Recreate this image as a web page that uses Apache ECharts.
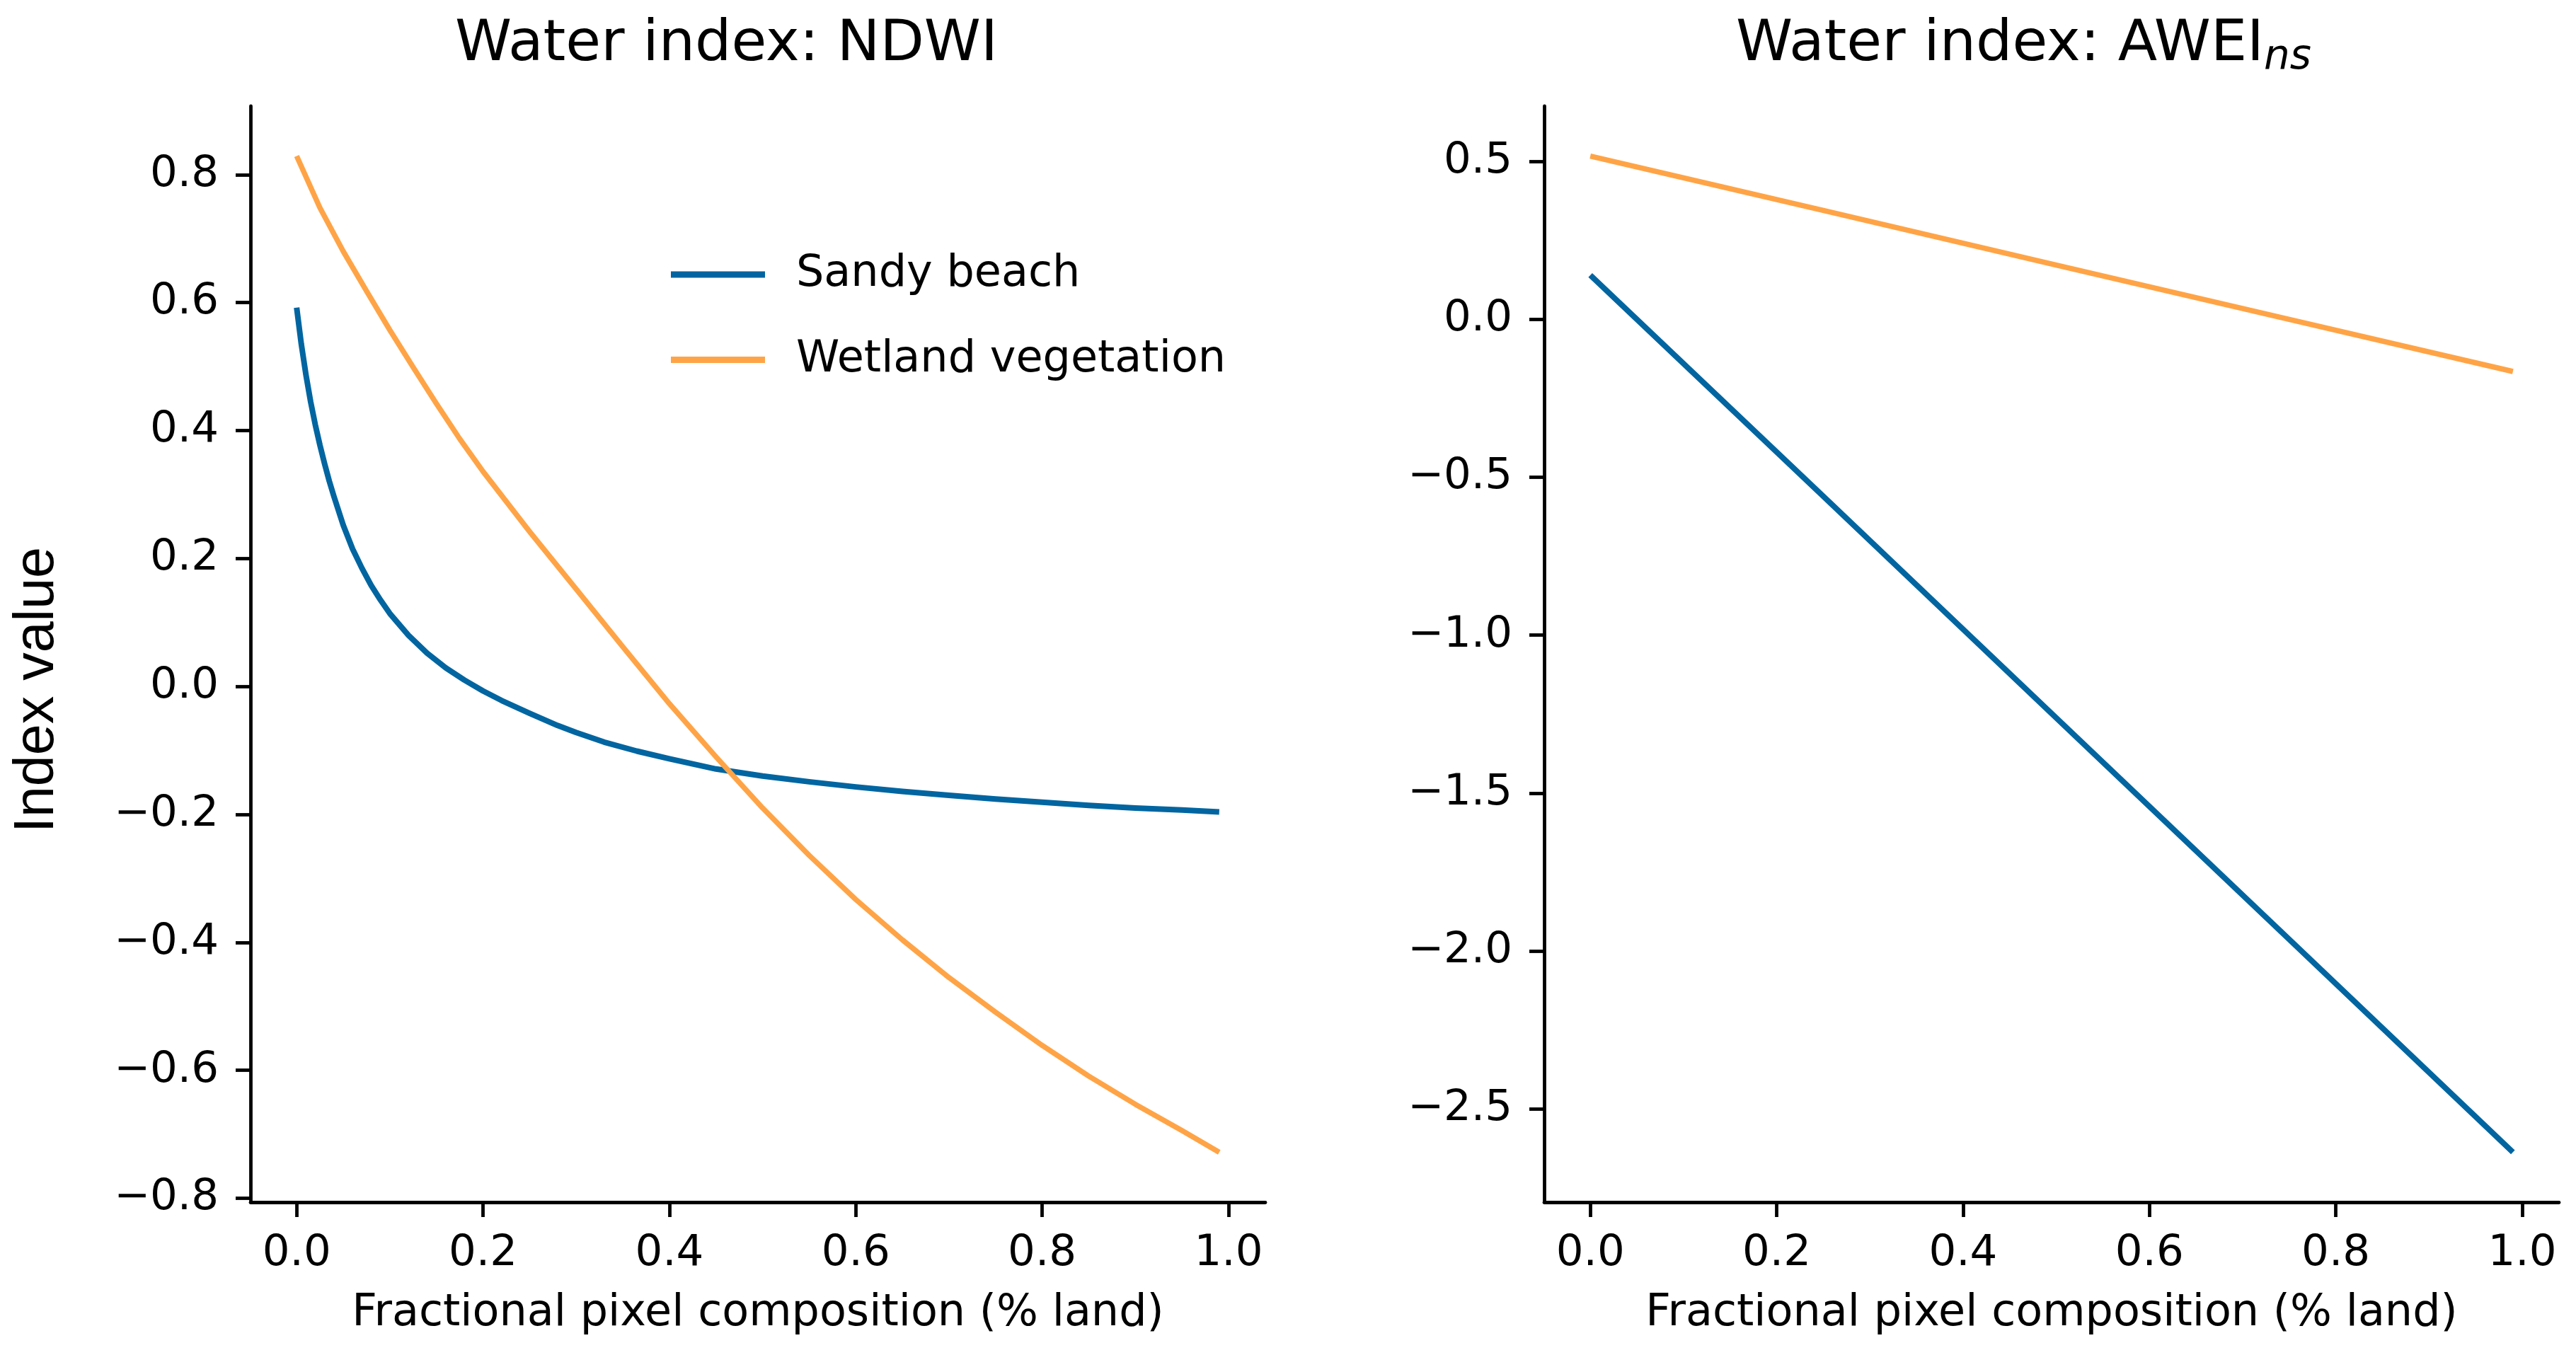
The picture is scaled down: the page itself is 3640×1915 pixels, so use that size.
<!DOCTYPE html>
<html><head><meta charset="utf-8">
<script src="https://cdn.jsdelivr.net/npm/echarts@6/dist/echarts.min.js"></script>
<style>html,body{margin:0;padding:0;background:#fff}#c{width:3640px;height:1915px}</style>
</head><body><div id="c"></div>
<script>
// ---- data ----
const seriesNames = ['Sandy beach', 'Wetland vegetation'];
const panelTitles = ['Water index: NDWI', 'Water index: AWEI'];
const titleSubscript = 'ns';
const xAxisTitle = 'Fractional pixel composition (% land)';
const yAxisTitle = 'Index value';
const xTicks = [0, 0.2, 0.4, 0.6, 0.8, 1.0];
const ndwiYTicks = [-0.8, -0.6, -0.4, -0.2, 0, 0.2, 0.4, 0.6, 0.8];
const aweiYTicks = [-2.5, -2.0, -1.5, -1.0, -0.5, 0, 0.5];

const sandyNdwiX = [0, 0.005, 0.01, 0.015, 0.02, 0.025, 0.03, 0.035, 0.04, 0.05, 0.06, 0.07, 0.08, 0.09, 0.10, 0.12, 0.14, 0.16, 0.18, 0.20, 0.22, 0.25, 0.28, 0.30, 0.33, 0.365, 0.40, 0.45, 0.50, 0.55, 0.60, 0.65, 0.70, 0.75, 0.80, 0.85, 0.90, 0.95, 0.99];
const sandyNdwiY = [0.592, 0.535, 0.487, 0.445, 0.409, 0.377, 0.348, 0.321, 0.297, 0.252, 0.215, 0.185, 0.158, 0.135, 0.114, 0.080, 0.052, 0.029, 0.010, -0.007, -0.022, -0.042, -0.061, -0.072, -0.087, -0.101, -0.113, -0.129, -0.140, -0.149, -0.157, -0.164, -0.170, -0.176, -0.181, -0.186, -0.190, -0.193, -0.196];

const wetlandNdwiX = [0, 0.025, 0.05, 0.075, 0.10, 0.125, 0.15, 0.175, 0.20, 0.25, 0.30, 0.35, 0.40, 0.45, 0.50, 0.55, 0.60, 0.65, 0.70, 0.75, 0.80, 0.85, 0.90, 0.95, 0.99];
const wetlandNdwiY = [0.829, 0.748, 0.680, 0.618, 0.557, 0.499, 0.442, 0.387, 0.336, 0.242, 0.152, 0.062, -0.027, -0.110, -0.190, -0.264, -0.333, -0.396, -0.455, -0.509, -0.561, -0.609, -0.653, -0.694, -0.728];

const aweiX = [0, 0.25, 0.50, 0.75, 0.99];
const sandyAweiY = [0.140, -0.560, -1.262, -1.963, -2.637];
const wetlandAweiY = [0.517, 0.345, 0.172, 0.000, -0.165];

// ---- styling ----
const BLUE = '#0065A0', ORANGE = '#FFA446';
const FONT = 'DejaVu Sans';
const pairs = (xs, ys) => xs.map((x, i) => [x, ys[i]]);
const fmt = v => (v < 0 ? '\u2212' : '') + Math.abs(v).toFixed(1);

const chart = echarts.init(document.getElementById('c'));

function xAxisCfg(gridIndex) {
  return {
    type: 'value', gridIndex, min: -0.0495, max: 1.0395,
    name: xAxisTitle, nameLocation: 'middle', nameGap: 127,
    nameTextStyle: { fontFamily: FONT, fontSize: 62, color: '#000' },
    axisLine: { show: true, onZero: false, lineStyle: { color: '#000', width: 4.8 } },
    axisTick: { show: true, inside: false, length: 21, lineStyle: { color: '#000', width: 4.8 }, customValues: xTicks },
    axisLabel: { show: true, margin: 43, fontFamily: FONT, fontSize: 61, color: '#000', customValues: xTicks, formatter: fmt },
    splitLine: { show: false }, minorTick: { show: false }
  };
}
function yAxisCfg(gridIndex, min, max, ticks) {
  return {
    type: 'value', gridIndex, min, max,
    axisLine: { show: true, onZero: false, lineStyle: { color: '#000', width: 4.8 } },
    axisTick: { show: true, inside: false, length: 21, lineStyle: { color: '#000', width: 4.8 }, customValues: ticks },
    axisLabel: { show: true, margin: 45, fontFamily: FONT, fontSize: 61, color: '#000', customValues: ticks, formatter: fmt },
    splitLine: { show: false }, minorTick: { show: false }
  };
}

// measure title width for subscript placement
const TITLE_FONT = '81px "' + FONT + '"';
const cv = document.createElement('canvas').getContext('2d');
cv.font = TITLE_FONT;
const mainW = cv.measureText(panelTitles[1]).width;

const lineSeries = (name, data, color, xi, width) => ({
  name, type: 'line', xAxisIndex: xi, yAxisIndex: xi, data,
  showSymbol: false, symbol: 'none', smooth: false,
  lineStyle: { color, width, cap: 'butt', join: 'round' }, itemStyle: { color }, z: 3, animation: false
});

chart.setOption({
  backgroundColor: '#fff',
  animation: false,
  grid: [
    { left: 354, right: 3640 - 1788, top: 150, bottom: 216, containLabel: false },
    { left: 2182, right: 3640 - 3616, top: 150, bottom: 216, containLabel: false }
  ],
  xAxis: [xAxisCfg(0), xAxisCfg(1)],
  yAxis: [yAxisCfg(0, -0.806, 0.907, ndwiYTicks), yAxisCfg(1, -2.795, 0.675, aweiYTicks)],
  legend: {
    data: seriesNames, orient: 'vertical', left: 943, top: 352,
    itemWidth: 133, itemHeight: 9, itemGap: 58.5, icon: 'rect',
    textStyle: { fontFamily: FONT, fontSize: 62, color: '#000', lineHeight: 60, padding: [0, 0, 0, 39] },
    selectedMode: false
  },
  graphic: [
    { type: 'text', style: { text: panelTitles[0], x: 643, y: 64, font: TITLE_FONT, fill: '#000', align: 'left', verticalAlign: 'middle' } },
    { type: 'text', style: { text: panelTitles[1], x: 2453, y: 64, font: TITLE_FONT, fill: '#000', align: 'left', verticalAlign: 'middle' } },
    { type: 'text', style: { text: titleSubscript, x: 2453 + mainW, y: 82, font: 'italic 58px "' + FONT + '"', fill: '#000', align: 'left', verticalAlign: 'middle' } },
    { type: 'text', rotation: Math.PI / 2, x: 53, y: 975, style: { text: yAxisTitle, x: 0, y: 0, font: '79px "Liberation Sans"', fill: '#000', align: 'center', verticalAlign: 'middle' } }
  ],
  series: [
    lineSeries(seriesNames[0], pairs(sandyNdwiX, sandyNdwiY), BLUE, 0, 8),
    lineSeries(seriesNames[1], pairs(wetlandNdwiX, wetlandNdwiY), ORANGE, 0, 7.5),
    lineSeries(seriesNames[0], pairs(aweiX, sandyAweiY), BLUE, 1, 8),
    lineSeries(seriesNames[1], pairs(aweiX, wetlandAweiY), ORANGE, 1, 7.5)
  ]
});
</script>
</body></html>
